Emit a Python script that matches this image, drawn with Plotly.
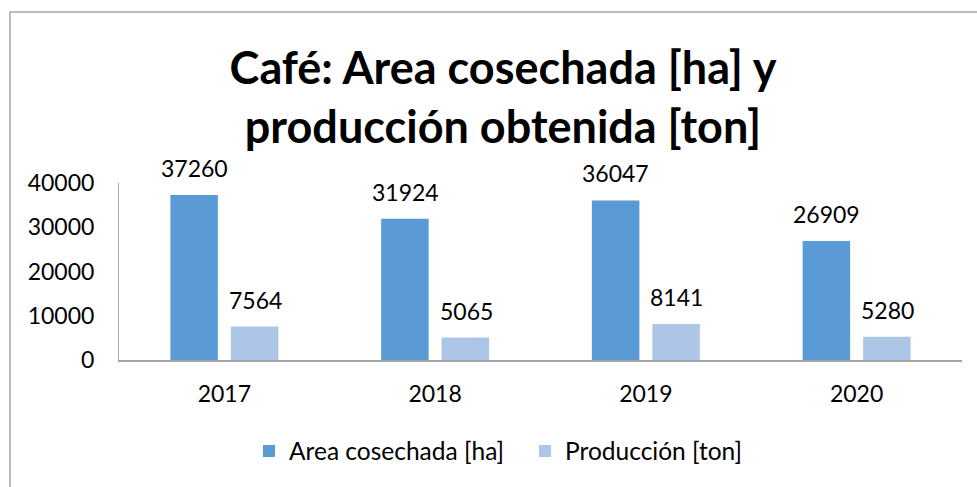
import plotly.graph_objects as go

years = ["2017", "2018", "2019", "2020"]
area = [37260, 31924, 36047, 26909]
produccion = [7564, 5065, 8141, 5280]
y_ticks = [0, 10000, 20000, 30000, 40000]

FONT = "Lato, Calibri, Carlito, sans-serif"
FS = 23

fig = go.Figure()
fig.add_trace(go.Bar(
    x=years, y=area, name="Area cosechada [ha]",
    marker=dict(color="#5B9BD5", line=dict(width=0)),
))
fig.add_trace(go.Bar(
    x=years, y=produccion, name="Producción [ton]",
    marker=dict(color="#ADC6E7", line=dict(width=0)),
))

# data labels above bars (x given as category index on the category axis)
for series, dx in ((area, -30), (produccion, 31)):
    for i, v in enumerate(series):
        fig.add_annotation(
            x=i, y=v, xref="x", yref="y", text=str(v), showarrow=False,
            xshift=dx, yshift=11, yanchor="bottom",
            font=dict(size=FS, family=FONT, color="#000000"),
        )

L, R, T, B = 119, 15, 183, 127
W, H = 977, 487
pw, ph = W - L - R, H - T - B

fig.update_layout(
    width=W, height=H,
    margin=dict(l=L, r=R, t=T, b=B),
    paper_bgcolor="white", plot_bgcolor="white",
    font=dict(family=FONT, size=FS, color="#000000"),
    barmode="group", bargap=0.426, bargroupgap=0.215,
    title=dict(
        text="<b>Café: Area cosechada [ha] y<br>producción obtenida [ton]</b>",
        x=503 / W, xanchor="center", xref="container",
        y=1 - 84 / H, yanchor="middle", yref="container",
        font=dict(size=45, family=FONT, color="#000000"),
    ),
    xaxis=dict(
        type="category", categoryorder="array", categoryarray=years,
        range=[-0.5, len(years) - 0.5],
        showgrid=False, showline=True, linecolor="#A6A6A6", linewidth=2,
        ticks="", tickfont=dict(size=FS), ticklabelstandoff=12,
    ),
    yaxis=dict(
        range=[0, 40000], tickvals=y_ticks, ticktext=[str(v) for v in y_ticks],
        showgrid=False, showline=True, linecolor="#A6A6A6", linewidth=1,
        zeroline=False, ticks="", tickfont=dict(size=FS), ticklabelstandoff=19,
    ),
    legend=dict(
        orientation="h", x=(249 - L) / pw, xanchor="left",
        y=(T + ph - 451) / ph, yanchor="middle",
        font=dict(size=24.5), itemwidth=30, traceorder="normal",
        entrywidth=231, entrywidthmode="pixels",
    ),
    showlegend=True,
)

# chart frame (outer border)
fig.add_shape(
    type="rect", xref="paper", yref="paper",
    x0=(10 - L) / pw, x1=1.2, y0=-1.0, y1=1 + (T - 12) / ph,
    line=dict(color="#A6A6A6", width=1.5), fillcolor="rgba(0,0,0,0)", layer="below",
)

fig.write_html("out.html")
